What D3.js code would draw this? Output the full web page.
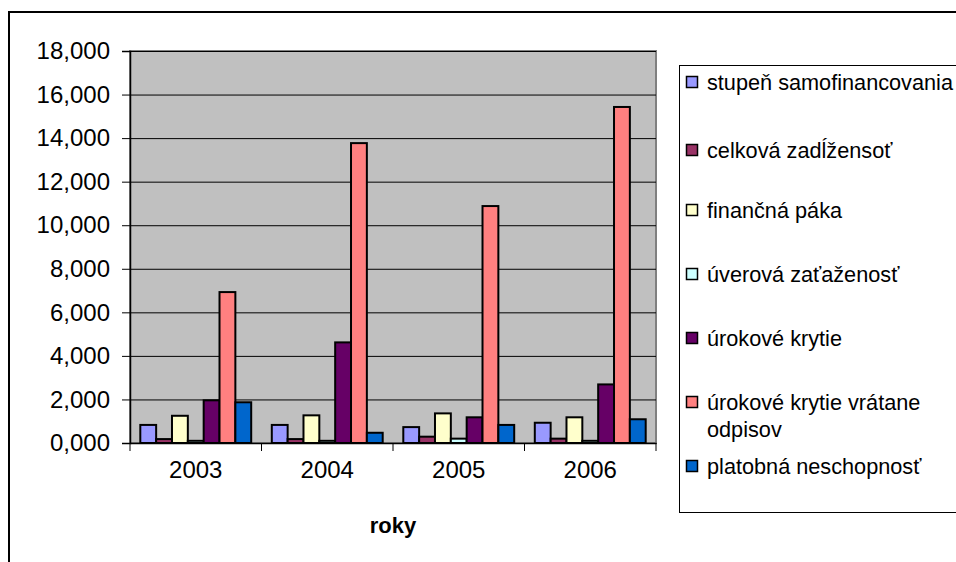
<!DOCTYPE html>
<html>
<head>
<meta charset="utf-8">
<script src="https://cdn.jsdelivr.net/npm/d3@7"></script>
<style>
  html, body { margin: 0; padding: 0; background: #fff; }
  svg { display: block; font-family: Arial, "Liberation Sans", sans-serif; }
</style>
</head>
<body>
<svg id="chart" width="956" height="562"></svg>
<script>
// Ukazovatele zadlženosti podľa rokov
const years = ["2003", "2004", "2005", "2006"];
const seriesNames = [
  "stupeň samofinancovania",
  "celková zadĺžensoť",
  "finančná páka",
  "úverová zaťaženosť",
  "úrokové krytie",
  "úrokové krytie vrátane odpisov",
  "platobná neschopnosť"
];
const stupenSamofinancovania = [0.83, 0.83, 0.73, 0.93];
const celkovaZadlzenost     = [0.18, 0.18, 0.29, 0.20];
const financnaPaka          = [1.25, 1.27, 1.36, 1.18];
const uverovaZatazenost     = [0.10, 0.10, 0.20, 0.10];
const urokoveKrytie         = [1.96, 4.62, 1.18, 2.69];
const urokoveKrytieOdpisy   = [6.93, 13.77, 10.88, 15.43];
const platobnaNeschopnost   = [1.87, 0.47, 0.83, 1.09];
const yTicks = [0, 2, 4, 6, 8, 10, 12, 14, 16, 18];
const yTickLabels = ["0,000", "2,000", "4,000", "6,000", "8,000", "10,000", "12,000", "14,000", "16,000", "18,000"];
const colors = ["#9999FF", "#993366", "#FFFFCC", "#CCFFFF", "#660066", "#FF8080", "#0066CC"];

const values = [stupenSamofinancovania, celkovaZadlzenost, financnaPaka, uverovaZatazenost,
                urokoveKrytie, urokoveKrytieOdpisy, platobnaNeschopnost];

const svg = d3.select("#chart");

// outer chart frame (continues past the right and bottom edges)
svg.append("rect")
  .attr("x", 9).attr("y", 12).attr("width", 1000).attr("height", 600)
  .attr("fill", "none").attr("stroke", "#000").attr("stroke-width", 2);

const plot = { left: 130, top: 51, right: 656, bottom: 443 };

const x0 = d3.scaleBand().domain(years).range([plot.left, plot.right]).paddingInner(0).paddingOuter(0);
const x1 = d3.scaleBand().domain(d3.range(seriesNames.length))
  .range([0, x0.bandwidth()]).paddingInner(0).paddingOuter(0.65);
const y = d3.scaleLinear().domain([0, 18]).range([plot.bottom, plot.top]);

// plot background
svg.append("rect")
  .attr("x", plot.left).attr("y", plot.top)
  .attr("width", plot.right - plot.left).attr("height", plot.bottom - plot.top)
  .attr("fill", "#C0C0C0").attr("stroke", "#808080").attr("stroke-width", 2);

// gridlines
svg.append("g").selectAll("line").data(yTicks.filter(d => d > 0)).join("line")
  .attr("x1", plot.left).attr("x2", plot.right)
  .attr("y1", d => y(d) + 0.5).attr("y2", d => y(d) + 0.5)
  .attr("stroke", "#000").attr("stroke-width", 1);

// bars
const groups = svg.append("g").selectAll("g").data(years).join("g")
  .attr("transform", d => `translate(${x0(d)},0)`);
groups.selectAll("rect")
  .data((yr, yi) => values.map((arr, si) => ({ si, v: arr[yi] })))
  .join("rect")
  .attr("x", d => x1(d.si))
  .attr("width", x1.bandwidth())
  .attr("y", d => y(d.v))
  .attr("height", d => y(0) - y(d.v))
  .attr("fill", d => colors[d.si])
  .attr("stroke", "#000").attr("stroke-width", 2);

// y axis
const yAxis = svg.append("g").attr("transform", `translate(${plot.left},0)`)
  .call(d3.axisLeft(y).tickValues(yTicks).tickSize(8).tickPadding(12)
    .tickFormat((d, i) => yTickLabels[i]));
yAxis.select(".domain").attr("stroke", "#000").attr("stroke-width", 1.5);
yAxis.selectAll(".tick line").attr("stroke", "#000");
yAxis.selectAll("text").attr("font-size", 24).attr("fill", "#000")
  .attr("font-family", "Arial, 'Liberation Sans', sans-serif");

// x axis
const xAxis = svg.append("g").attr("transform", `translate(0,${plot.bottom})`)
  .call(d3.axisBottom(x0).tickSize(0).tickPadding(18));
xAxis.select(".domain").attr("stroke", "#000").attr("stroke-width", 1.5);
xAxis.selectAll("text").attr("font-size", 24).attr("fill", "#000")
  .attr("font-family", "Arial, 'Liberation Sans', sans-serif");
// category separator ticks
svg.append("g").selectAll("line")
  .data(years.map(yr => x0(yr)).concat([plot.right])).join("line")
  .attr("x1", d => d).attr("x2", d => d)
  .attr("y1", plot.bottom).attr("y2", plot.bottom + 8)
  .attr("stroke", "#000").attr("stroke-width", 1);

// axis title
svg.append("text")
  .attr("x", (plot.left + plot.right) / 2).attr("y", 533)
  .attr("text-anchor", "middle").attr("font-size", 22).attr("font-weight", "bold")
  .text("roky");

// legend
const legend = svg.append("g");
legend.append("rect")
  .attr("x", 679.5).attr("y", 65.5).attr("width", 400).attr("height", 447)
  .attr("fill", "#fff").attr("stroke", "#000").attr("stroke-width", 1);
const legendLines = [
  ["stupeň samofinancovania"],
  ["celková zadĺžensoť"],
  ["finančná páka"],
  ["úverová zaťaženosť"],
  ["úrokové krytie"],
  ["úrokové krytie vrátane", "odpisov"],
  ["platobná neschopnosť"]
];
const rowY = d3.scaleLinear().domain([0, 6]).range([82, 466]);
const items = legend.selectAll("g.item").data(seriesNames).join("g").attr("class", "item")
  .attr("transform", (d, i) => `translate(0,${rowY(i) + (i === 1 ? 4 : 0)})`);
items.append("rect")
  .attr("x", 686.5).attr("y", -5.5).attr("width", 11).attr("height", 11)
  .attr("fill", (d, i) => colors[i]).attr("stroke", "#000").attr("stroke-width", 1.5);
items.append("text")
  .attr("x", 707).attr("y", 8)
  .attr("font-size", 21.7)
  .style("font-variant-ligatures", "none")
  .selectAll("tspan").data((d, i) => legendLines[i]).join("tspan")
  .attr("x", 707).attr("dy", (d, j) => j === 0 ? 0 : 27)
  .text(d => d);
</script>
</body>
</html>
